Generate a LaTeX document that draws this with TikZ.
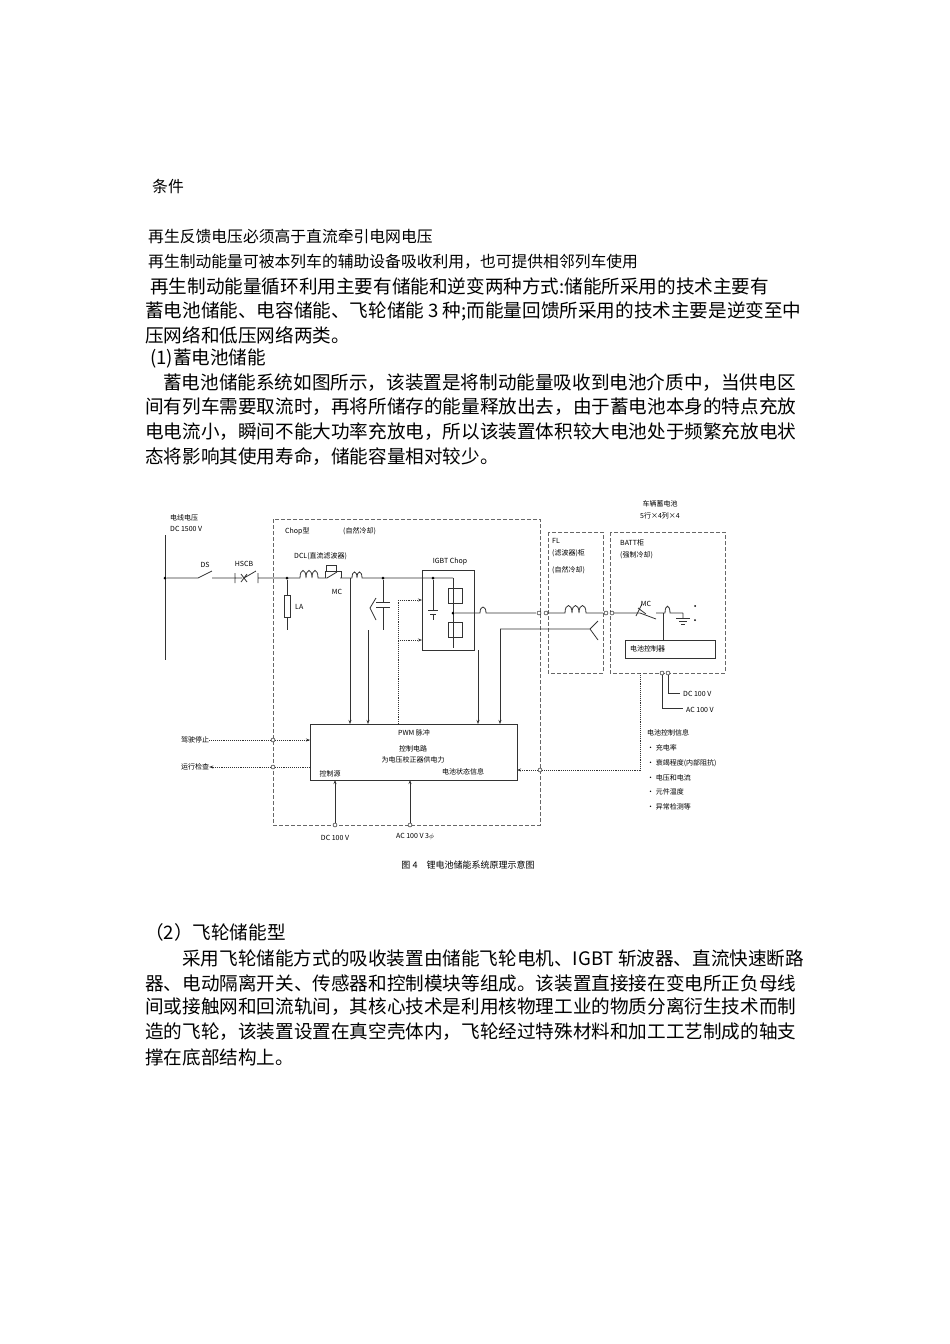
\documentclass[tikz,border=0pt]{standalone}
\usepackage{fontspec}
\setmainfont{Liberation Serif}
\newfontfamily\cjk{Noto Sans CJK SC}
\usetikzlibrary{arrows.meta,decorations.pathmorphing}
\begin{document}
\begin{tikzpicture}[x=1pt,y=-1pt,
 body/.style={anchor=west,inner sep=0,font=\cjk\fontsize{18.6}{20}\selectfont},
 small/.style={anchor=west,inner sep=0,font=\cjk\fontsize{15.8}{17}\selectfont},
 lab/.style={inner sep=0,font=\cjk\fontsize{7}{8}\selectfont},
 ln/.style={line width=0.8pt,black!80},
 dsh/.style={dashed,line width=0.8pt,black!60,dash pattern=on 4pt off 2pt},
 dot/.style={densely dotted,line width=0.9pt,black!80},
 oc/.style={circle,draw,fill=white,inner sep=0,minimum size=4pt},
 fc/.style={circle,fill=black,inner sep=0,minimum size=4pt},
 arr/.style={-{Stealth[length=4pt]}}]
\fill[white] (0,0) rectangle (950,1344);
\useasboundingbox (0,0) rectangle (950,1344);
% text
\node[small] (t0) at (152,186) {条件};
\node[small] (t1) at (148,236) {再生反馈电压必须高于直流牵引电网电压};
\node[small] (t2) at (148,262) {再生制动能量可被本列车的辅助设备吸收利用，也可提供相邻列车使用};
\node[body] (p1) at (150,286) {再生制动能量循环利用主要有储能和逆变两种方式:储能所采用的技术主要有};
\node[body] (p2) at (145,311) {蓄电池储能、电容储能、飞轮储能 3 种;而能量回馈所采用的技术主要是逆变至中};
\node[body] (p3) at (145,335) {压网络和低压网络两类。};
\node[body] (h1) at (150,358) {(1)蓄电池储能};
\node[body] (q1) at (163,383) {蓄电池储能系统如图所示，该装置是将制动能量吸收到电池介质中，当供电区};
\node[body] (q2) at (145,407) {间有列车需要取流时，再将所储存的能量释放出去，由于蓄电池本身的特点充放};
\node[body] (q3) at (145,432) {电电流小，瞬间不能大功率充放电，所以该装置体积较大电池处于频繁充放电状};
\node[body] (q4) at (145,457) {态将影响其使用寿命，储能容量相对较少。};
\node[body] (h2) at (145,932) {（2）飞轮储能型};
\node[body] (r1) at (182,958) {采用飞轮储能方式的吸收装置由储能飞轮电机、IGBT 斩波器、直流快速断路};
\node[body] (r2) at (145,983) {器、电动隔离开关、传感器和控制模块等组成。该装置直接接在变电所正负母线};
\node[body] (r3) at (145,1007) {间或接触网和回流轨间，其核心技术是利用核物理工业的物质分离衍生技术而制};
\node[body] (r4) at (145,1032) {造的飞轮，该装置设置在真空壳体内，飞轮经过特殊材料和加工工艺制成的轴支};
\node[body] (r5) at (145,1057) {撑在底部结构上。};
\node[lab,font=\cjk\fontsize{9}{10}\selectfont] (cap) at (468,865) {图 4\quad 锂电池储能系统原理示意图};
% boxes
\draw[dsh] (273,519) rectangle (540,825);
\draw[dsh] (548,532) rectangle (603,673);
\draw[dsh] (610,532) rectangle (725,673);
\node[lab,anchor=west] at (170,518) {电线电压};
\node[lab,anchor=west] at (170,529) {DC 1500 V};
\node[lab,anchor=west] at (285,531) {Chop型};
\node[lab,anchor=west] at (343,531) {(自然冷却)};
\node[lab,anchor=west] at (552,541) {FL};
\node[lab,anchor=west] at (552,553) {(滤波器)柜};
\node[lab,anchor=west] at (552,570) {(自然冷却)};
\node[lab,anchor=west] at (620,543) {BATT柜};
\node[lab,anchor=west] at (620,555) {(强制冷却)};
\node[lab] at (660,504) {车辆蓄电池};
\node[lab] at (660,516) {5行×4列×4};
% main line
\draw[ln] (165,535) -- (165,660);
\node[fc,minimum size=3pt] (b0) at (165,578) {};
\draw[ln] (b0) -- (198,578) (198,578) -- (212,571) (212,578) -- (235,578);
\node[lab] at (205,565) {DS};
\node[lab] at (244,564) {HSCB};
\draw[ln] (235,573) -- (235,583) (235,578) -- (242,578) (241,574)--(247,582) (247,574)--(241,582) (244,578)--(256,571) (258,573)--(258,583) (258,578) -- (300,578);
\node[fc,minimum size=3pt] (n1) at (287,578) {};
\draw[ln] (n1) -- (287,630); \draw[ln,fill=white] (284,595) rectangle (290,617);
\node[lab,anchor=west] at (295,607) {LA};
\draw[ln] (300,578) .. controls (300,568) and (306,568) .. (306,578) .. controls (306,568) and (312,568) .. (312,578) .. controls (312,568) and (318,568) .. (318,578) -- (327,578) -- (337,572) (340,578) -- (352,578);
\draw[ln] (326,565) rectangle (336,571) (325,571) -- (325,578) (341,571)--(341,578)(336,571)--(341,571);
\node[lab,anchor=west] at (294,556) {DCL(直流滤波器)};
\node[lab] at (337,592) {MC};
\draw[ln] (352,578) .. controls (352,570) and (357,570) .. (357,578) .. controls (357,570) and (362,570) .. (362,578) -- (453,578);
\node[fc,minimum size=3pt] (n2) at (383,578) {};
\draw[ln] (n2) -- (383,602) (376,602) -- (390,602) (376,607) -- (390,607) (383,607) -- (383,630);
\draw[ln] (370,608) -- (376,598) (370,608) -- (376,620);
\draw[ln] (422,570) rectangle (474,650);
\node[lab] at (450,562) {IGBT Chop};
\node[fc,minimum size=3pt] (n3) at (433,578) {};
\draw[ln] (n3) -- (433,610) (428,610) -- (438,610) (430,614) -- (436,614) (433,614) -- (433,620);
\draw[ln] (453,578) -- (453,648);
\draw[ln] (448,588) rectangle (462,603) (448,622) rectangle (462,637);
\node[fc,minimum size=3pt] (n4) at (453,613) {};
\draw[ln] (n4) -- (480,613) .. controls (480,605) and (486,605) .. (486,613) -- (536,613);
\node[oc] (c1) at (539,613) {}; \node[oc] (c2) at (546,613) {};
\draw[ln] (c2) -- (565,613) .. controls (565,603) and (572,603) .. (572,613) .. controls (572,603) and (579,603) .. (579,613) .. controls (579,603) and (586,603) .. (586,613) -- (603,613);
\node[oc] (c3) at (606,613) {}; \node[oc] (c4) at (612,613) {};
\draw[ln] (c4) -- (640,613) (640,613) -- (656,619) (656,613) -- (665,613);
\draw[ln] (638,608)--(646,614) (636,616)--(642,604);
\node[lab] at (646,604) {MC};
\draw[ln] (665,613) .. controls (665,604) and (670,604) .. (670,613) -- (683,613) (683,613) -- (683,618);
\draw[ln] (676,618) -- (690,618) (679,621) -- (687,621) (681,624) -- (685,624);
\fill (695,606) circle (1pt) (695,620) circle (1pt);
\draw[ln] (663,613) -- (663,640);
\draw[ln] (625,640) rectangle (715,658);
\node[lab,anchor=west] at (630,649) {电池控制器};
\node[oc] (c5) at (662,673) {}; \node[oc] (c6) at (668,673) {};
\draw[ln] (c5) -- (662,708) -- (683,708) (c6) -- (668,693) -- (680,693);
\node[lab,anchor=west] at (683,694) {DC 100 V};
\node[lab,anchor=west] at (686,710) {AC 100 V};
\draw[ln] (500,629) -- (590,629) (590,629) -- (598,621) (590,629) -- (598,640);
% control lines
\node[draw,ln,minimum width=207pt,minimum height=56pt,inner sep=0,anchor=north west] (pwm) at (310,724) {};
\node[lab] at (414,733) {PWM 脉冲};
\node[lab] at (413,749) {控制电路};
\node[lab] at (413,760) {为电压校正器供电力};
\node[lab] at (330,774) {控制源};
\node[lab] at (463,772) {电池状态信息};
\draw[ln,arr] (350,578) -- (350,724);
\draw[ln,arr] (368,630) -- (368,724);
\draw[ln,arr] (478,650) -- (478,724);
\draw[ln,arr] (500,629) -- (500,724);
\draw[dot] (398,724) -- (398,600);
\draw[dot,arr] (398,600) -- (422,600);
\draw[dot,arr] (398,640) -- (422,640);
\node[lab] (s1) at (195,740) {驾驶停止};
\node[lab] (s2) at (195,767) {运行检查};
\node[oc] (c7) at (273,740) {}; \node[oc] (c8) at (273,767) {};
\draw[dot] (s1) -- (c7); \draw[dot,arr] (c7) -- (310,740);
\draw[dot] (310,767) -- (c8); \draw[dot,arr] (c8) -- (s2);
\node[oc] (c9) at (335,825) {}; \node[oc] (c10) at (410,825) {};
\draw[ln,arr] (c9) -- (335,780); \draw[ln,arr] (c10) -- (410,780);
\node[lab] at (335,838) {DC 100 V};
\node[lab] at (415,837) {AC 100 V 3$\phi$};
\node[oc] (c11) at (540,770) {};
\draw[dot] (640,673) -- (640,770) -- (c11); \draw[dot,arr] (c11) -- (517,770);
\node[lab,anchor=west] at (647,733) {电池控制信息};
\node[lab,anchor=west] at (647,748) {• 充电率};
\node[lab,anchor=west] at (647,763) {• 衰竭程度(内部阻抗)};
\node[lab,anchor=west] at (647,778) {• 电压和电流};
\node[lab,anchor=west] at (647,792) {• 元件温度};
\node[lab,anchor=west] at (647,807) {• 异常检测等};
\end{tikzpicture}
\end{document}
